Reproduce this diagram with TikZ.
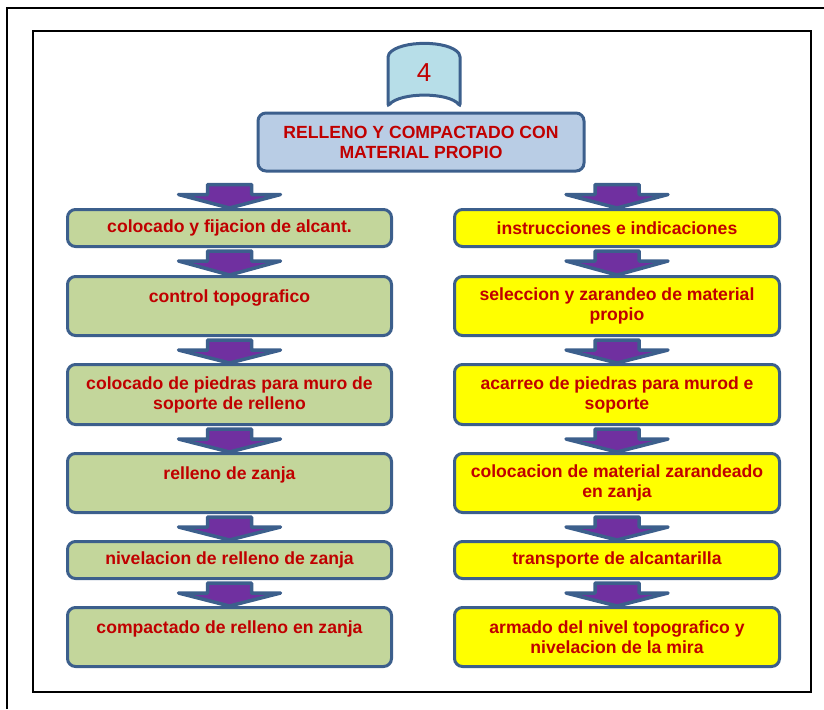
\documentclass[tikz,border=0pt]{standalone}
\usepackage{fontspec}
\setmainfont{Liberation Sans}
\usetikzlibrary{calc}
\definecolor{edgeblue}{RGB}{60,95,140}
\definecolor{leafgreen}{RGB}{195,214,155}
\definecolor{brightyellow}{RGB}{255,255,0}
\definecolor{titleblue}{RGB}{185,205,229}
\definecolor{tabblue}{RGB}{183,222,232}
\definecolor{arrowpurple}{RGB}{112,48,160}
\definecolor{textred}{RGB}{192,0,0}
\tikzset{
  stepbase/.style={rectangle, rounded corners=8pt, draw=edgeblue, line width=3pt,
    text=textred, font=\fontsize{17.6}{20}\selectfont\bfseries, align=center,
    inner sep=2pt},
  greenbox/.style={stepbase, fill=leafgreen, minimum width=324pt},
  yellowbox/.style={stepbase, fill=brightyellow, minimum width=325pt},
  titlebox/.style={stepbase, fill=titleblue, minimum width=326pt, minimum height=58pt},
  flowarrow/.style={fill=arrowpurple, draw=edgeblue, line width=3.5pt, line join=round},
}
% block arrow from the bottom of #1 to the top of #2, shaft starting #3 below #1
\newcommand\blockarrow[3]{%
  \path[flowarrow] let \p1=(#1.south), \p2=(#2.north) in
    (\x2-22pt,\y1-#3) -- (\x2+22pt,\y1-#3) -- (\x2+22pt,\y1-#3-10pt)
    -- (\x2+51pt,\y1-#3-10pt) -- (\x2,\y2) -- (\x2-51pt,\y1-#3-10pt)
    -- (\x2-22pt,\y1-#3-10pt) -- cycle;}
\begin{document}
\begin{tikzpicture}[x=1pt,y=-1pt]
\useasboundingbox (0,0) rectangle (824,709);
% page frame
\draw[line width=1.2pt] (7,709) -- (7,8);
\draw[line width=2.5pt] (6.4,8) -- (824,8);
\draw[line width=2pt] (33,31) rectangle (811,692);

% tab with the step number
\path[fill=tabblue, draw=edgeblue, line width=3pt, rounded corners=2pt]
  (388,106) -- (388,55) .. controls (400,40) and (449,40) .. (460,55)
  -- (460,106) .. controls (449,92) and (400,92) .. cycle;
\node[text=textred, font=\fontsize{26}{28}\selectfont] (num) at (424,73) {4};

\node[titlebox] (title) at (421,142) {RELLENO Y COMPACTADO CON\\MATERIAL PROPIO};

% left column
\node[greenbox, minimum height=37pt] (l1) at (229.5,228) {colocado y fijacion de alcant.};
\node[greenbox, minimum height=59pt] (l2) at (229.5,306) {control topografico\\\mbox{}};
\node[greenbox, minimum height=60pt] (l3) at (229.5,394.5) {colocado de piedras para muro de\\soporte de relleno};
\node[greenbox, minimum height=59pt] (l4) at (229.5,483) {relleno de zanja\\\mbox{}};
\node[greenbox, minimum height=37pt] (l5) at (229.5,560) {nivelacion de relleno de zanja};
\node[greenbox, minimum height=59pt] (l6) at (229.5,637) {compactado de relleno en zanja\\\mbox{}};

% right column
\node[yellowbox, minimum height=37pt] (r1) at (617,228) {instrucciones e indicaciones};
\node[yellowbox, minimum height=59pt] (r2) at (617,306) {seleccion y zarandeo de material\\propio};
\node[yellowbox, minimum height=60pt] (r3) at (617,394.5) {acarreo de piedras para murod e\\soporte};
\node[yellowbox, minimum height=59pt] (r4) at (617,483) {colocacion de material zarandeado\\en zanja};
\node[yellowbox, minimum height=37pt] (r5) at (617,560) {transporte de alcantarilla};
\node[yellowbox, minimum height=59pt] (r6) at (617,637) {armado del nivel topografico y\\nivelacion de la mira};

% arrows
\blockarrow{title}{l1}{12pt}
\blockarrow{title}{r1}{12pt}
\blockarrow{l1}{l2}{3pt}
\blockarrow{l2}{l3}{3pt}
\blockarrow{l3}{l4}{3pt}
\blockarrow{l4}{l5}{3pt}
\blockarrow{l5}{l6}{3pt}
\blockarrow{r1}{r2}{3pt}
\blockarrow{r2}{r3}{3pt}
\blockarrow{r3}{r4}{3pt}
\blockarrow{r4}{r5}{3pt}
\blockarrow{r5}{r6}{3pt}
\end{tikzpicture}
\end{document}
